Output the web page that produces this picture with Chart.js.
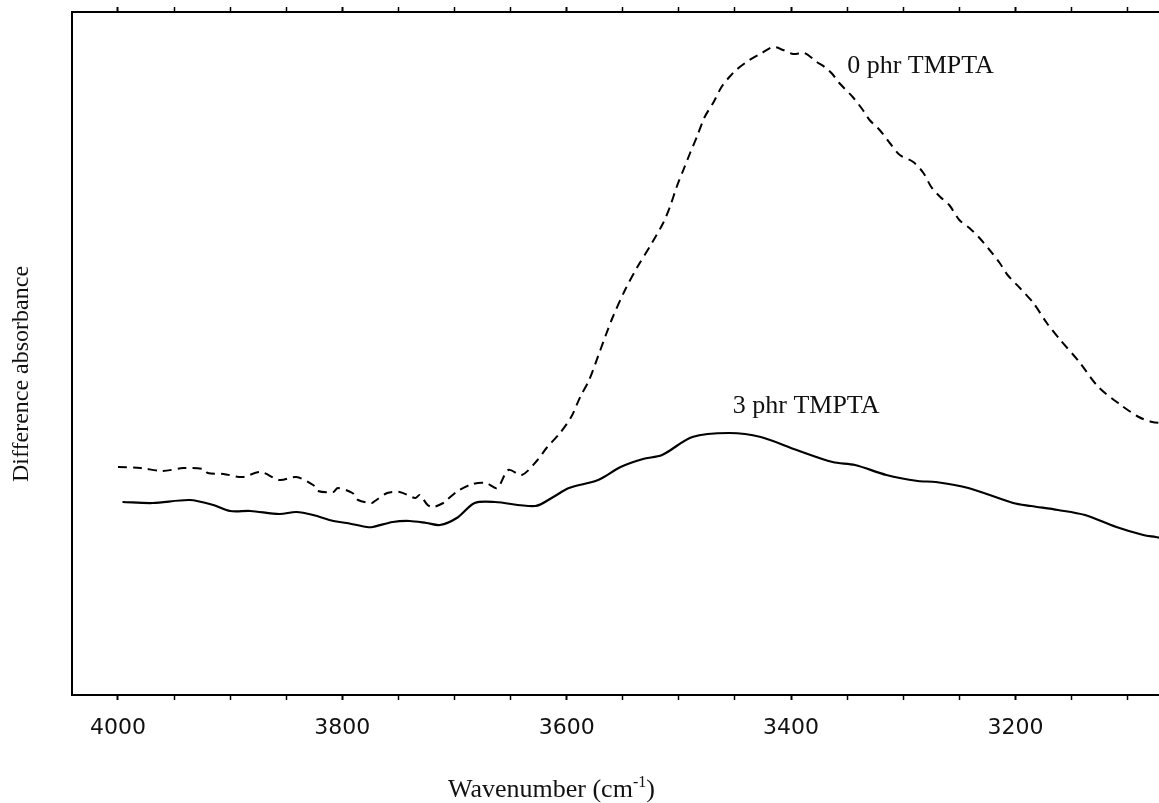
<!DOCTYPE html>
<html>
<head>
<meta charset="utf-8">
<script src="https://cdn.jsdelivr.net/npm/chart.js@4.4.1/dist/chart.umd.min.js"></script>
<style>
    html, body { margin: 0; padding: 0; background: #fff; overflow: hidden; }
    #wrap { width: 1159px; height: 803px; }
</style>
</head>
<body>
<div id="wrap"><canvas id="chart"></canvas></div>
<script>
/* FTIR difference spectra, O-H stretching region. Wavenumbers in cm-1,
   absorbance in arbitrary units (the original has no y scale). */

const wnZero = [4000, 3980, 3960, 3942, 3924, 3920, 3906, 3889, 3873, 3856, 3841, 3826, 3822,
    3808, 3804, 3791, 3786, 3774, 3771, 3760, 3749, 3735, 3731, 3724, 3719, 3710, 3707, 3697,
    3684, 3672, 3662, 3652, 3640, 3626, 3618, 3606, 3596, 3588, 3580, 3570, 3560, 3548, 3537,
    3524, 3514, 3508, 3502, 3496, 3490, 3484, 3477, 3469, 3462, 3455, 3449, 3437, 3426, 3416,
    3407, 3398, 3388, 3377, 3370, 3364, 3357, 3345, 3336, 3330, 3321, 3312, 3303, 3291, 3282,
    3275, 3267, 3259, 3250, 3241, 3232, 3223, 3214, 3207, 3196, 3184, 3172, 3160, 3143, 3126,
    3106, 3090, 3078, 3070];
const absZero = [0.228, 0.227, 0.224, 0.227, 0.226, 0.222, 0.221, 0.218, 0.223, 0.215, 0.218, 0.210, 0.204,
    0.203, 0.207, 0.202, 0.195, 0.192, 0.194, 0.202, 0.203, 0.197, 0.200, 0.190, 0.188, 0.192, 0.195, 0.204,
    0.211, 0.212, 0.207, 0.225, 0.220, 0.235, 0.247, 0.262, 0.278, 0.298, 0.315, 0.345, 0.375, 0.405, 0.428,
    0.452, 0.472, 0.488, 0.508, 0.525, 0.542, 0.558, 0.578, 0.593, 0.608, 0.618, 0.625, 0.635, 0.642, 0.648,
    0.645, 0.641, 0.642, 0.633, 0.628, 0.622, 0.612, 0.598, 0.585, 0.575, 0.565, 0.552, 0.540, 0.533, 0.522,
    0.508, 0.498, 0.490, 0.475, 0.467, 0.457, 0.445, 0.432, 0.420, 0.407, 0.392, 0.372, 0.355, 0.333, 0.308,
    0.290, 0.278, 0.273, 0.272];

const wnThree = [3996, 3969, 3936, 3915, 3900, 3882, 3856, 3841, 3826, 3808, 3796, 3778, 3773,
    3755, 3740, 3725, 3713, 3698, 3682, 3664, 3628, 3612, 3598, 3572, 3552, 3532, 3515, 3488, 3455,
    3427, 3395, 3363, 3343, 3315, 3287, 3271, 3242, 3202, 3186, 3162, 3138, 3110, 3086, 3075, 3070];
const absThree = [0.193, 0.192, 0.195, 0.190, 0.184, 0.184, 0.181, 0.183, 0.180, 0.174, 0.172, 0.168, 0.168,
    0.173, 0.174, 0.172, 0.170, 0.177, 0.192, 0.193, 0.189, 0.198, 0.207, 0.215, 0.228, 0.236, 0.240, 0.258, 0.262,
    0.258, 0.245, 0.233, 0.230, 0.220, 0.214, 0.213, 0.207, 0.192, 0.189, 0.185, 0.180, 0.168, 0.160, 0.158, 0.157];

const tickValues = [4000, 3950, 3900, 3850, 3800, 3750, 3700, 3650, 3600, 3550, 3500, 3450,
    3400, 3350, 3300, 3250, 3200, 3150, 3100];

// curve labels, anchored in data space: [text, wavenumber, absorbance at baseline]
const curveLabels = [['0 phr TMPTA', 3350, 0.622], ['3 phr TMPTA', 3452, 0.282]];

const toPoints = (xs, ys) => xs.map((x, i) => ({ x, y: ys[i] }));

const serif = '"Liberation Serif", "Times New Roman", serif';

function setTicks(scale) {
    scale.ticks = tickValues.map(v => ({ value: v }));
}

const xAxisBase = {
    type: 'linear',
    reverse: true,
    min: 3072,
    max: 4041,
    afterBuildTicks: setTicks,
    border: { display: true, color: '#000', width: 2 },
    grid: {
        drawOnChartArea: false,
        drawTicks: true,
        tickLength: 5,
        color: '#000',
        tickWidth: ctx => (ctx.tick && ctx.tick.value % 200 === 0) ? 2 : 1.5
    }
};

const textPlugin = {
    id: 'spectrumText',
    afterDraw(chart) {
        const { ctx, scales } = chart;
        ctx.save();
        ctx.fillStyle = '#111';

        // curve labels
        ctx.font = `26px ${serif}`;
        ctx.textAlign = 'left';
        ctx.textBaseline = 'alphabetic';
        curveLabels.forEach(([txt, wn, a]) => {
            ctx.fillText(txt, scales.x.getPixelForValue(wn), scales.y.getPixelForValue(a));
        });

        // x axis title with superscript
        const main = 'Wavenumber (cm';
        const sup = '-1';
        const close = ')';
        ctx.font = `26px ${serif}`;
        const wMain = ctx.measureText(main).width;
        const wClose = ctx.measureText(close).width;
        ctx.font = `16px ${serif}`;
        const wSup = ctx.measureText(sup).width;
        let x = 448;
        const base = 797;
        ctx.font = `26px ${serif}`;
        ctx.fillText(main, x, base);
        x += wMain;
        ctx.font = `16px ${serif}`;
        ctx.fillText(sup, x, base - 10);
        x += wSup;
        ctx.font = `26px ${serif}`;
        ctx.fillText(close, x, base);

        // y axis title
        ctx.font = `24px ${serif}`;
        ctx.translate(22, 374);
        ctx.rotate(-Math.PI / 2);
        ctx.textAlign = 'center';
        ctx.textBaseline = 'middle';
        ctx.fillText('Difference absorbance', 0, 0);
        ctx.restore();
    }
};

new Chart(document.getElementById('chart'), {
    type: 'line',
    data: {
        datasets: [
            {
                label: '0 phr TMPTA',
                data: toPoints(wnZero, absZero),
                borderColor: '#000',
                borderWidth: 2,
                borderDash: [9, 6],
                pointRadius: 0,
                tension: 0.3,
                xAxisID: 'x'
            },
            {
                label: '3 phr TMPTA',
                data: toPoints(wnThree, absThree),
                borderColor: '#000',
                borderWidth: 2.2,
                pointRadius: 0,
                tension: 0.3,
                xAxisID: 'x'
            }
        ]
    },
    options: {
        responsive: true,
        maintainAspectRatio: false,
        animation: false,
        layout: { padding: 0 },
        plugins: { legend: { display: false }, tooltip: { enabled: false } },
        scales: {
            x: {
                ...xAxisBase,
                position: 'bottom',
                afterFit: s => { s.height = 108; },
                ticks: {
                    autoSkip: false,
                    maxRotation: 0,
                    padding: 15,
                    color: '#111',
                    font: { family: '"DejaVu Sans", sans-serif', size: 22 },
                    callback: v => (v % 200 === 0 ? String(v) : '')
                }
            },
            xTop: {
                ...xAxisBase,
                position: 'top',
                afterFit: s => { s.height = 12; },
                ticks: { display: false }
            },
            y: {
                min: 0,
                max: 0.683,
                afterFit: s => { s.width = 72; },
                border: { display: true, color: '#000', width: 2 },
                grid: { display: false },
                ticks: { display: false }
            }
        }
    },
    plugins: [textPlugin]
});
</script>
</body>
</html>
